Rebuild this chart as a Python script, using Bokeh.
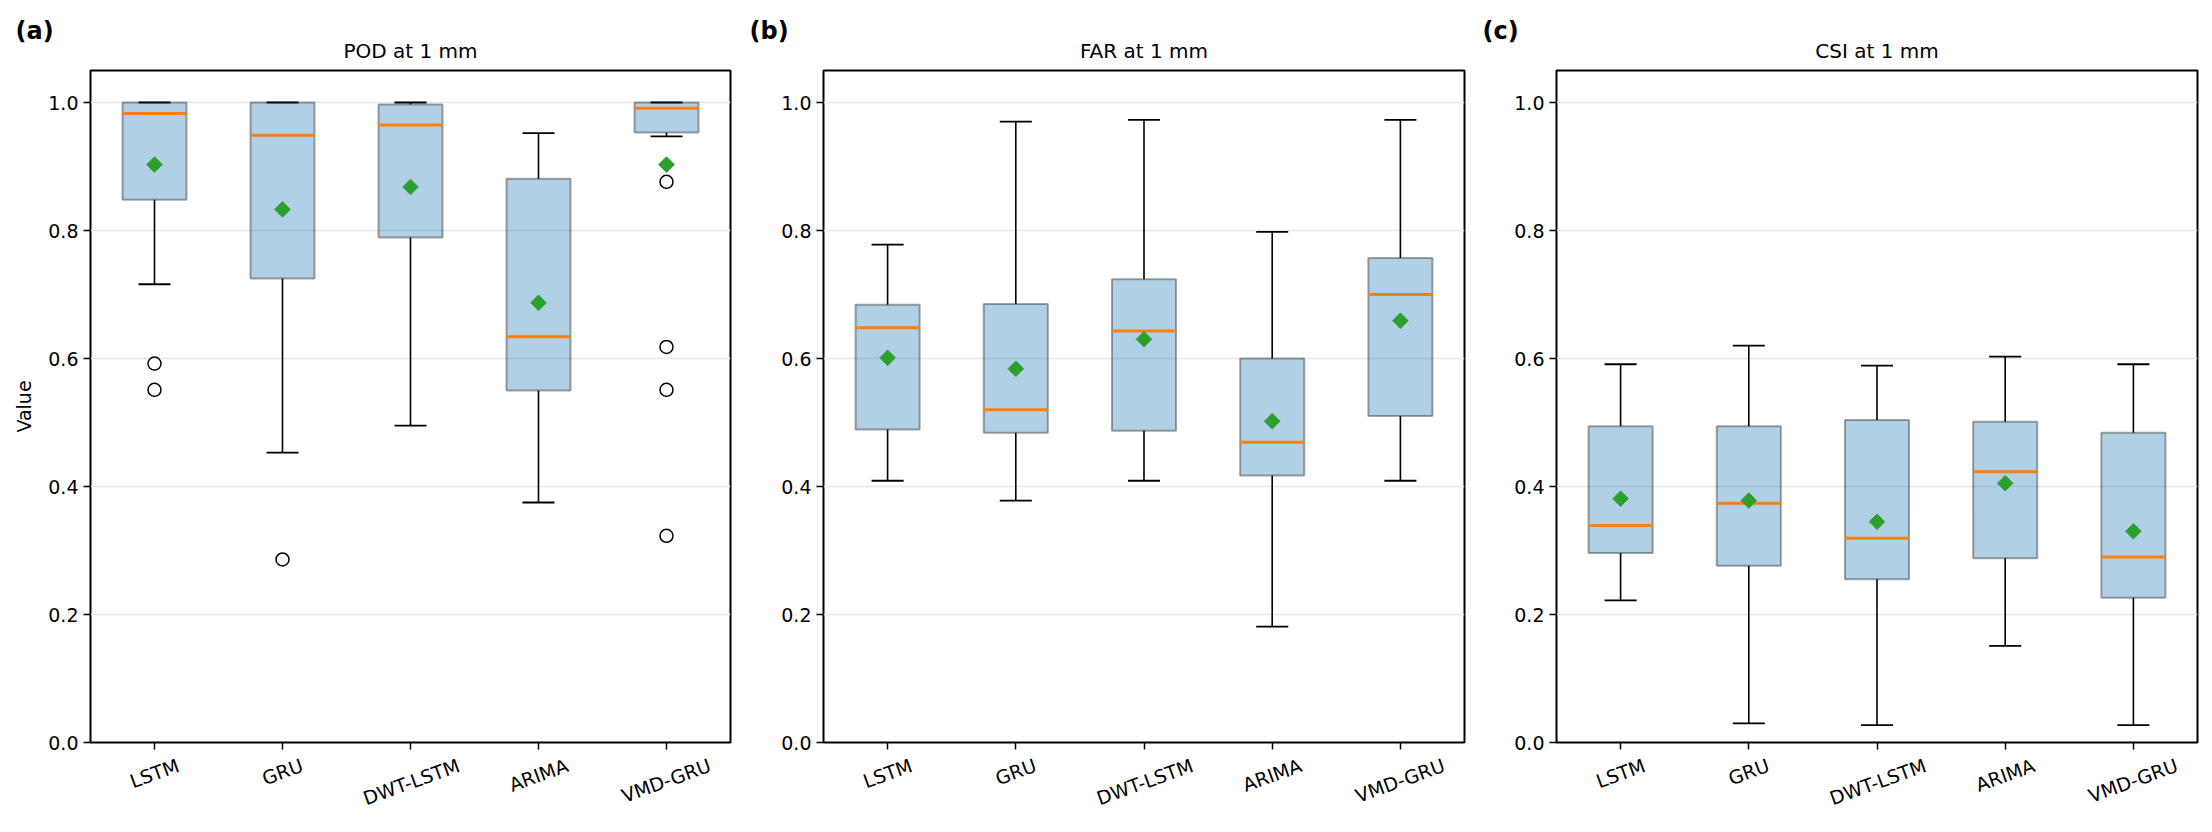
import math
from bokeh.plotting import figure
from bokeh.models import Range1d, FixedTicker, Title, LinearAxis
from bokeh.layouts import row
from bokeh.embed import file_html
from bokeh.resources import INLINE

models = ["LSTM", "GRU", "DWT-LSTM", "ARIMA", "VMD-GRU"]
y_ticks = [0.0, 0.2, 0.4, 0.6, 0.8, 1.0]

# POD at 1 mm
pod_low = [0.716, 0.453, 0.495, 0.375, 0.947]
pod_q1 = [0.848, 0.725, 0.789, 0.550, 0.953]
pod_med = [0.983, 0.949, 0.965, 0.634, 0.991]
pod_q3 = [1.000, 1.000, 0.997, 0.881, 1.000]
pod_high = [1.000, 1.000, 1.000, 0.952, 1.000]
pod_mean = [0.903, 0.833, 0.868, 0.687, 0.903]
pod_out = [[0.592, 0.551], [0.286], [], [], [0.876, 0.618, 0.551, 0.323]]

# FAR at 1 mm
far_low = [0.409, 0.378, 0.409, 0.181, 0.409]
far_q1 = [0.489, 0.484, 0.487, 0.417, 0.510]
far_med = [0.648, 0.520, 0.643, 0.469, 0.700]
far_q3 = [0.684, 0.685, 0.724, 0.600, 0.757]
far_high = [0.778, 0.970, 0.973, 0.798, 0.973]
far_mean = [0.601, 0.584, 0.630, 0.502, 0.659]
far_out = [[], [], [], [], []]

# CSI at 1 mm
csi_low = [0.222, 0.030, 0.027, 0.151, 0.027]
csi_q1 = [0.296, 0.276, 0.255, 0.288, 0.226]
csi_med = [0.339, 0.374, 0.319, 0.423, 0.290]
csi_q3 = [0.494, 0.494, 0.504, 0.501, 0.484]
csi_high = [0.591, 0.620, 0.589, 0.603, 0.591]
csi_mean = [0.381, 0.378, 0.345, 0.405, 0.330]
csi_out = [[], [], [], [], []]

FONT = "DejaVu Sans"
YMAX = 1.05
LABEL_PX = 19
ROT = math.radians(20)
# approximate DejaVu Sans advance widths (em) used to centre rotated labels
GLYPH_EM = {"L": .557, "S": .635, "T": .611, "M": .863, "G": .775, "R": .695,
            "U": .732, "D": .770, "W": .989, "-": .361, "A": .684, "I": .295,
            "V": .684}


def text_width(s):
    return sum(GLYPH_EM.get(c, 0.6) for c in s) * LABEL_PX


def make_panel(title, tag, low, q1, med, q3, high, mean, outl,
               width, left, right, tag_offset, show_ylabel):
    frame_w = width - left - right
    px_per_x = frame_w / 5.0
    p = figure(width=width, height=832, output_backend="svg",
               toolbar_location=None, x_range=Range1d(0.5, 5.5),
               y_range=Range1d(0, YMAX), min_border_left=left,
               min_border_right=right, min_border_top=70,
               min_border_bottom=90)
    xs = list(range(1, len(models) + 1))
    # whiskers
    p.segment(x0=xs, y0=q3, x1=xs, y1=high, line_color="black", line_width=1.6)
    p.segment(x0=xs, y0=low, x1=xs, y1=q1, line_color="black", line_width=1.6)
    p.segment(x0=[x - 0.125 for x in xs], y0=high, x1=[x + 0.125 for x in xs],
              y1=high, line_color="black", line_width=1.8)
    p.segment(x0=[x - 0.125 for x in xs], y0=low, x1=[x + 0.125 for x in xs],
              y1=low, line_color="black", line_width=1.8)
    # boxes
    p.vbar(x=xs, width=0.5, bottom=q1, top=q3, fill_color="#1f77b4",
           fill_alpha=0.35, line_color="black", line_alpha=0.35, line_width=2)
    # medians
    p.segment(x0=[x - 0.25 for x in xs], y0=med, x1=[x + 0.25 for x in xs],
              y1=med, line_color="#ff7f0e", line_width=3)
    # means
    p.scatter(x=xs, y=mean, marker="square", angle=math.pi / 4, size=11,
              fill_color="#2ca02c", line_color="#2ca02c")
    # outliers
    ox, oy = [], []
    for i, vals in enumerate(outl):
        for v in vals:
            ox.append(xs[i])
            oy.append(v)
    if ox:
        p.scatter(x=ox, y=oy, marker="circle", size=13, fill_color=None,
                  line_color="black", line_width=1.5)

    # x axis: tick marks only
    p.xaxis.ticker = FixedTicker(ticks=xs)
    p.xaxis.major_label_overrides = {x: " " for x in xs}
    p.xaxis.major_label_text_alpha = 0
    p.xaxis.major_label_text_font_size = "1px"
    p.xaxis.major_label_standoff = 0
    # second x axis carrying the rotated, centred category labels
    shifted = [round(x + (text_width(m) / 2.0) * math.cos(ROT) / px_per_x, 4)
               for x, m in zip(xs, models)]
    lab_ax = LinearAxis(ticker=FixedTicker(ticks=shifted),
                        major_label_overrides={s: m for s, m in zip(shifted, models)},
                        major_label_orientation=ROT,
                        major_tick_out=0, major_tick_in=0,
                        major_tick_line_color=None, major_tick_line_alpha=0,
                        major_tick_line_width=0,
                        minor_tick_line_color=None, minor_tick_line_alpha=0,
                        axis_line_color=None, axis_line_alpha=0,
                        major_label_standoff=8,
                        major_label_text_font=FONT,
                        major_label_text_font_size=f"{LABEL_PX}px",
                        major_label_text_color="black")
    p.add_layout(lab_ax, "below")

    p.yaxis.ticker = FixedTicker(ticks=y_ticks)
    p.yaxis.major_label_overrides = {t: f"{t:.1f}" for t in y_ticks}
    p.yaxis.major_label_text_font = FONT
    p.yaxis.major_label_text_font_size = f"{LABEL_PX}px"
    p.yaxis.major_label_text_color = "black"
    p.yaxis.major_label_standoff = 5
    for ax in (p.xaxis, p.yaxis):
        ax.major_tick_line_color = "black"
        ax.major_tick_line_width = 1.5
        ax.major_tick_out = 7
        ax.major_tick_in = 0
        ax.minor_tick_line_color = None
        ax.axis_line_color = None
    if show_ylabel:
        p.yaxis.axis_label = "Value"
        p.yaxis.axis_label_text_font = FONT
        p.yaxis.axis_label_text_font_size = "19px"
        p.yaxis.axis_label_text_font_style = "normal"
        p.yaxis.axis_label_text_color = "black"
        p.yaxis.axis_label_standoff = 10
    p.xgrid.grid_line_color = None
    p.ygrid.grid_line_color = "#e6e6e6"
    p.ygrid.grid_line_width = 1.5
    p.outline_line_color = "black"
    p.outline_line_width = 2
    p.outline_line_alpha = 1.0
    p.background_fill_color = "white"
    p.border_fill_color = "white"

    p.add_layout(Title(text=title, align="center", text_font=FONT,
                       text_font_size="20px", text_font_style="normal",
                       text_color="black", standoff=15), "above")
    p.add_layout(Title(text=tag, align="left", offset=tag_offset,
                       text_font=FONT, text_font_size="24px",
                       text_font_style="bold", text_color="black",
                       vertical_align="bottom", standoff=-30), "above")
    return p


p1 = make_panel("POD at 1 mm", "(a)", pod_low, pod_q1, pod_med, pod_q3,
                pod_high, pod_mean, pod_out, 740, 90, 10, -75, True)
p2 = make_panel("FAR at 1 mm", "(b)", far_low, far_q1, far_med, far_q3,
                far_high, far_mean, far_out, 740, 83, 16, -74, False)
p3 = make_panel("CSI at 1 mm", "(c)", csi_low, csi_q1, csi_med, csi_q3,
                csi_high, csi_mean, csi_out, 732, 76, 15, -74, False)

layout = row(p1, p2, p3)
open("out.html", "w").write(file_html(layout, INLINE))
